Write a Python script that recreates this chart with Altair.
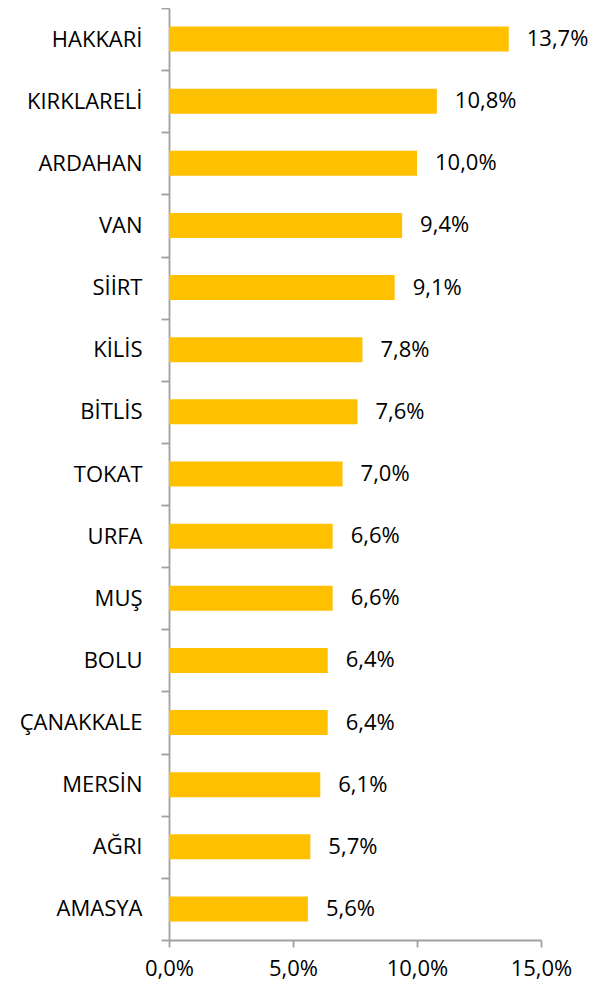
import altair as alt
import pandas as pd

provinces = ["HAKKARİ", "KIRKLARELİ", "ARDAHAN", "VAN", "SİİRT", "KİLİS", "BİTLİS",
             "TOKAT", "URFA", "MUŞ", "BOLU", "ÇANAKKALE", "MERSİN", "AĞRI", "AMASYA"]
values = [13.7, 10.8, 10.0, 9.4, 9.1, 7.8, 7.6, 7.0, 6.6, 6.6, 6.4, 6.4, 6.1, 5.7, 5.6]
x_ticks = [0, 5, 10, 15]

df = pd.DataFrame({
    "il": provinces,
    "v": values,
    "lbl": [f"{v:.1f}%".replace(".", ",") for v in values],
})

FONT = "Open Sans"
FS = 22
AX = "#A0A0A0"

y = alt.Y("il:N", sort=provinces, title=None,
          scale=alt.Scale(paddingInner=0, paddingOuter=0),
          axis=alt.Axis(labelFont=FONT, labelFontSize=FS, labelColor="black",
                        labelPadding=19, tickSize=8, tickBand="extent",
                        domainColor=AX, tickColor=AX,
                        domainWidth=1.8, tickWidth=1.8))
x = alt.X("v:Q", title=None,
          scale=alt.Scale(domain=[0, 15], nice=False),
          axis=alt.Axis(values=x_ticks, grid=False, tickSize=7,
                        labelFlush=False, labelOverlap=False,
                        labelExpr="replace(format(datum.value, '.1f'), '.', ',') + '%'",
                        labelFont=FONT, labelFontSize=FS, labelColor="black",
                        labelPadding=11,
                        domainColor=AX, tickColor=AX,
                        domainWidth=1.8, tickWidth=1.8))

bars = alt.Chart(df).mark_bar(color="#FFC000", size=25).encode(x=x, y=y)
text = alt.Chart(df).mark_text(align="left", baseline="middle", dx=18,
                               font=FONT, fontSize=FS, color="black").encode(
    x="v:Q", y=alt.Y("il:N", sort=provinces), text="lbl:N")

chart = (bars + text).properties(
    width=372, height=932,
    autosize=alt.AutoSizeParams(type="none"),
    padding={"left": 161, "top": 0, "right": 50, "bottom": 49},
).configure_view(stroke=None)

chart.save("out.html", embed_options={"renderer": "svg", "actions": False})
